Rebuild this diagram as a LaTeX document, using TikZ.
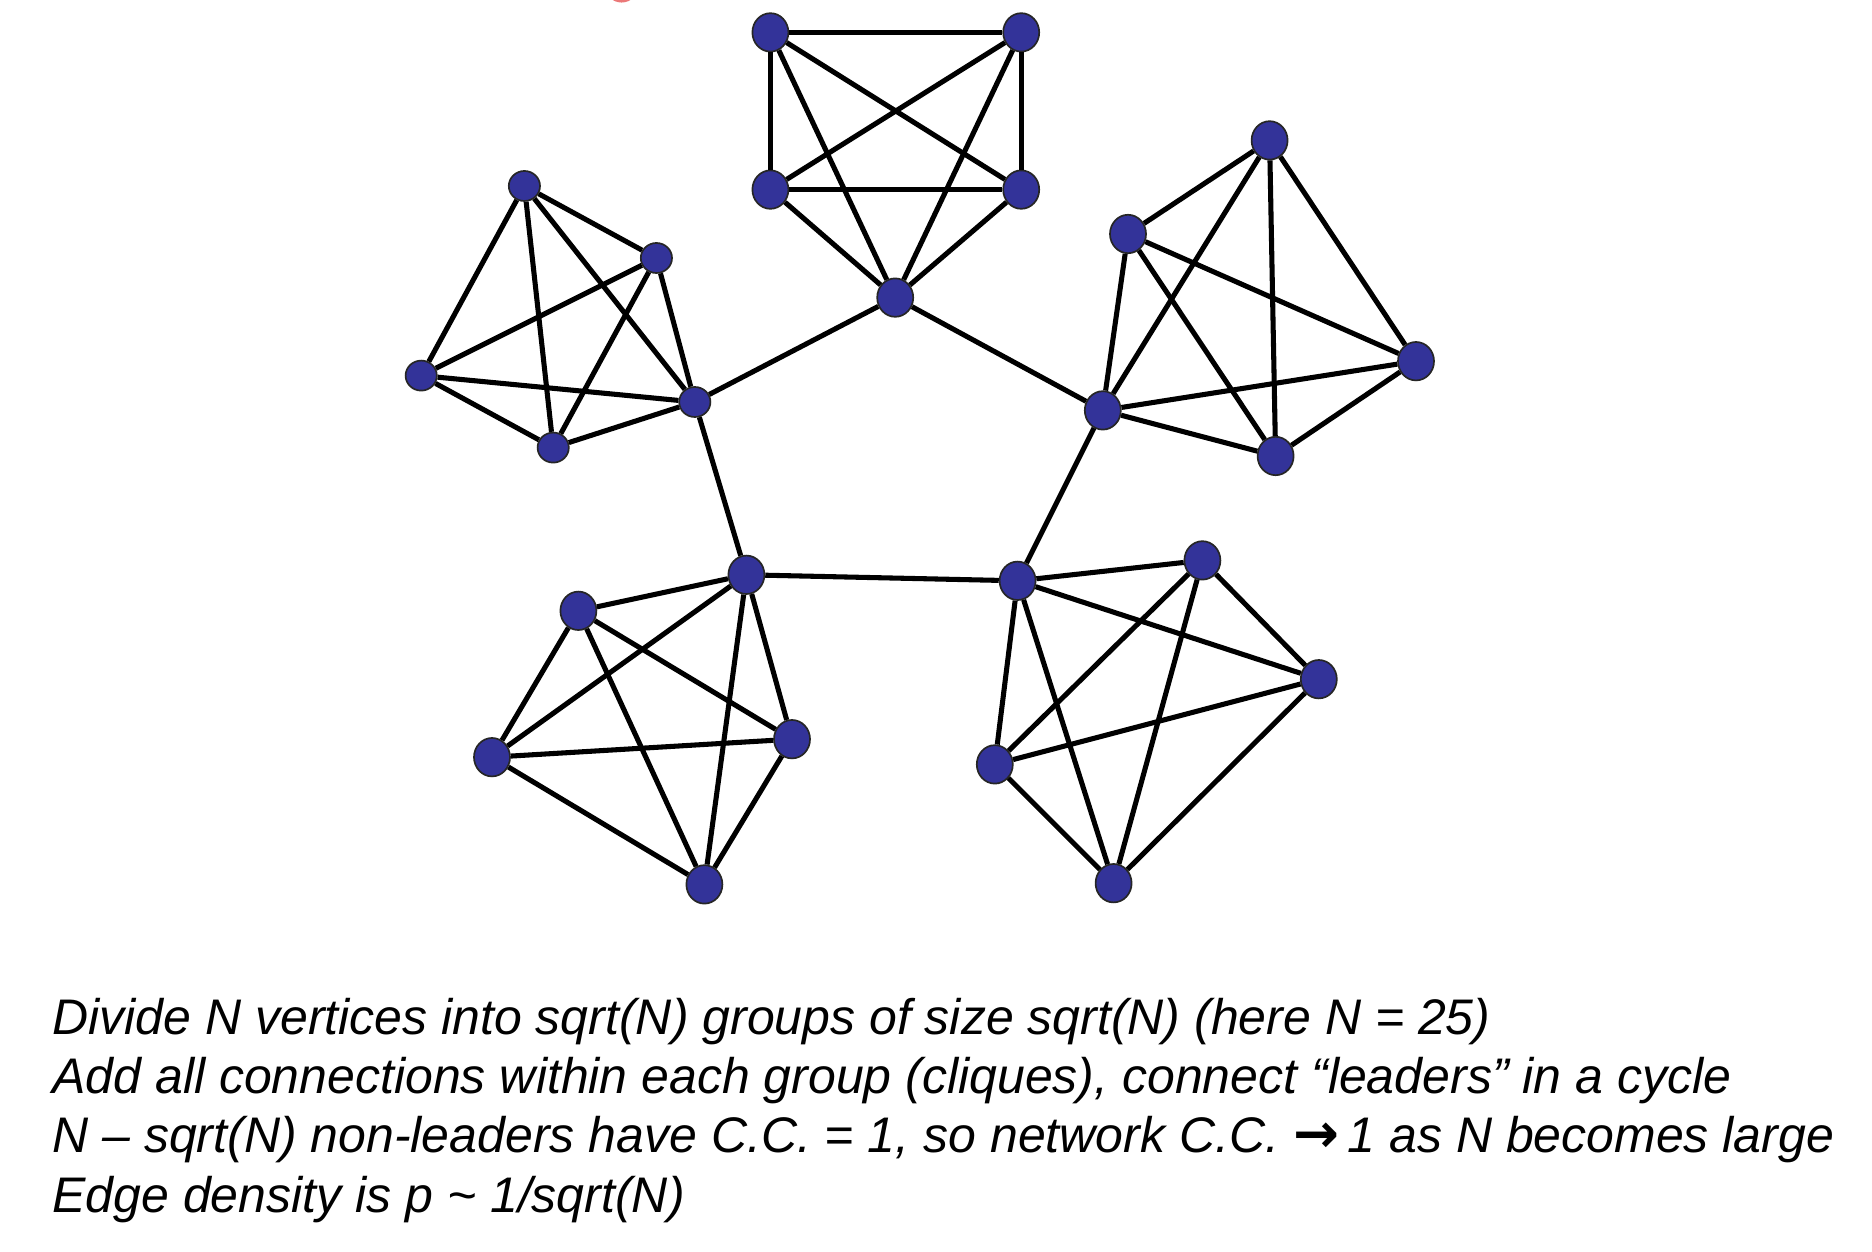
\documentclass[tikz,border=0pt]{standalone}
\usepackage{fontspec}
\setmainfont{Liberation Sans}
\newfontfamily\arrowfont{DejaVu Sans}
\usetikzlibrary{shapes.geometric}
\definecolor{nodeblue}{RGB}{51,51,153}
\definecolor{arcred}{RGB}{235,120,120}
\begin{document}
\begin{tikzpicture}[x=0.01cm,y=-0.01cm,
  vtx/.style={ellipse,draw=black!85,line width=0.4pt,fill=nodeblue,inner sep=0pt,minimum width=0.30cm,minimum height=0.32cm},
  small/.style={vtx,minimum width=0.26cm,minimum height=0.25cm},
  edge/.style={draw=black,line width=1.2pt},
  caption/.style={anchor=base west,inner sep=0pt,font=\fontsize{11.85}{13.9}\selectfont\itshape}]
\useasboundingbox (0,0) rectangle (1560,1043);
% cut-off red mark at top edge
\begin{scope}
\clip (0,0) rectangle (1560,1043);
\draw[arcred,line width=1.2pt] (518,-12) circle[radius=12];
\end{scope}
% top clique
\node[vtx] (T1) at (642,27) {};
\node[vtx] (T2) at (851,27) {};
\node[vtx] (T3) at (642,158) {};
\node[vtx] (T4) at (851,158) {};
\node[vtx] (T5) at (746,248) {};
% upper-left clique
\node[small] (A1) at (437,155) {};
\node[small] (A2) at (547,215) {};
\node[small] (A3) at (351,313) {};
\node[small] (A4) at (461,373) {};
\node[small] (A5) at (579,335) {};
% upper-right clique
\node[vtx] (B1) at (1058,117) {};
\node[vtx] (B2) at (940,195) {};
\node[vtx] (B3) at (1180,301) {};
\node[vtx] (B4) at (1063,380) {};
\node[vtx] (B5) at (919,342) {};
% lower-left clique
\node[vtx] (C1) at (482,509) {};
\node[vtx] (C2) at (410,631) {};
\node[vtx] (C3) at (660,616) {};
\node[vtx] (C4) at (587,737) {};
\node[vtx] (C5) at (622,479) {};
% lower-right clique
\node[vtx] (D1) at (1002,467) {};
\node[vtx] (D2) at (1099,566) {};
\node[vtx] (D3) at (829,637) {};
\node[vtx] (D4) at (928,736) {};
\node[vtx] (D5) at (848,484) {};
% clique edges
\foreach \g in {T,A,B,C,D}{
  \foreach \i/\j in {1/2,1/3,1/4,1/5,2/3,2/4,2/5,3/4,3/5,4/5}
    \draw[edge] (\g\i) -- (\g\j);
}
% leader cycle
\draw[edge] (T5) -- (A5);
\draw[edge] (A5) -- (C5);
\draw[edge] (C5) -- (D5);
\draw[edge] (D5) -- (B5);
\draw[edge] (B5) -- (T5);
% caption
\node[caption] (l1) at (43,862) {Divide N vertices into sqrt(N) groups of size sqrt(N) (here N = 25)};
\node[caption] (l2) at (43,911) {Add all connections within each group (cliques), connect “leaders” in a cycle};
\node[caption] (l3) at (43,960) {N – sqrt(N) non-leaders have C.C. = 1, so network C.C. {\arrowfont\bfseries\upshape\fontsize{13}{13.9}\selectfont →}\,1 as N becomes large};
\node[caption] (l4) at (43,1010) {Edge density is p \textasciitilde{} 1/sqrt(N)};
\end{tikzpicture}
\end{document}
